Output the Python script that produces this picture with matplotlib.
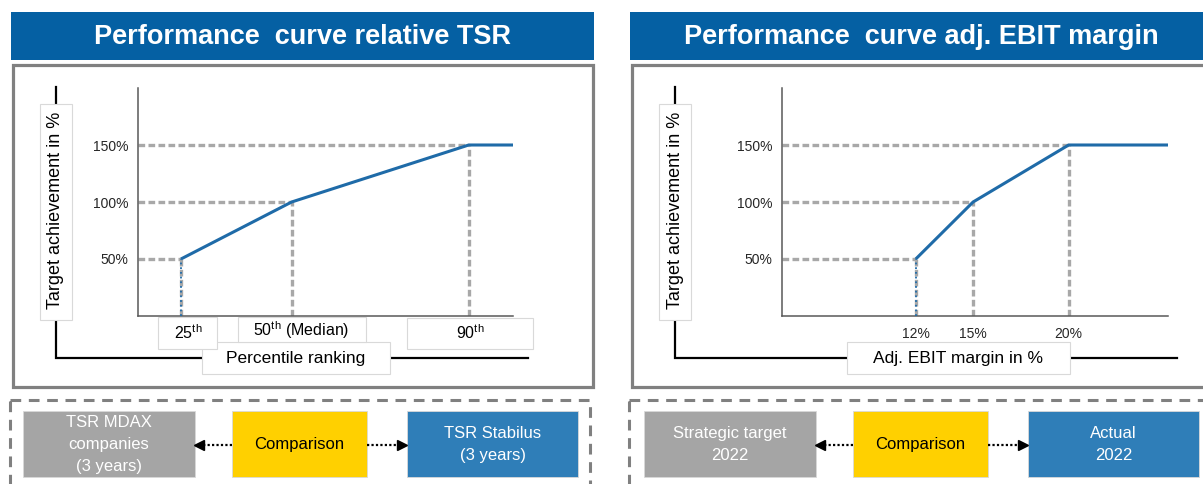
import matplotlib
matplotlib.use('Agg')
import matplotlib.pyplot as plt
from matplotlib.patches import Rectangle

plt.rcParams['font.family'] = ['Liberation Sans', 'DejaVu Sans']
plt.rcParams['mathtext.fontset'] = 'custom'
plt.rcParams['mathtext.rm'] = 'Liberation Sans'
plt.rcParams['mathtext.it'] = 'Liberation Sans:italic'

# ---- data ----
tsr_pct = [25, 50, 90, 100]
tsr_ach = [50, 100, 150, 150]
tsr_labels = ['25$^{\\mathrm{th}}$', '50$^{\\mathrm{th}}$ (Median)', '90$^{\\mathrm{th}}$']

ebit_margin = [12, 15, 20, 25.2]
ebit_ach = [50, 100, 150, 150]
ebit_labels = ['12%', '15%', '20%']

y_ticks = [50, 100, 150]
y_tick_labels = ['50%', '100%', '150%']

titles = ['Performance  curve relative TSR', 'Performance  curve adj. EBIT margin']
x_titles = ['Percentile ranking', 'Adj. EBIT margin in %']
y_title = 'Target achievement in %'
box_texts = [['TSR MDAX\ncompanies\n(3 years)', 'Comparison', 'TSR Stabilus\n(3 years)'],
             ['Strategic target\n2022', 'Comparison', 'Actual\n2022']]

# ---- colours ----
BANNER = '#0560A3'
LINE = '#1F6BA8'
GUIDE = '#A8A8A8'
FRAME = '#808080'
BOX_GRAY = '#A5A5A5'
BOX_YELLOW = '#FFD000'
BOX_BLUE = '#2F7EB8'
LIGHT_EDGE = '#D9D9D9'

W, H = 1203, 484
fig = plt.figure(figsize=(W / 100, H / 100), dpi=100)
bg = fig.add_axes([0, 0, 1, 1])
bg.set_xlim(0, W)
bg.set_ylim(H, 0)
bg.axis('off')


def rect(x0, y0, x1, y1, fc='white', ec='none', lw=1.0, ls='-', z=1):
    bg.add_patch(Rectangle((x0, y0), x1 - x0, y1 - y0, facecolor=fc, edgecolor=ec,
                           lw=lw, ls=ls, zorder=z))


def chart(px0, px1, xs, ys, xmin):
    ax = fig.add_axes([px0 / W, (H - 316) / H, (px1 - px0) / W, 228 / H])
    ax.patch.set_alpha(0)
    ax.set_xlim(xmin, xs[-1])
    ax.set_ylim(0, 200)
    for s in ['top', 'right']:
        ax.spines[s].set_visible(False)
    for s in ['left', 'bottom']:
        ax.spines[s].set_color('#595959')
        ax.spines[s].set_linewidth(1.1)
    # guide lines
    for x, y in zip(xs[:3], ys[:3]):
        ax.plot([xmin, x], [y, y], color=GUIDE, lw=2.4, ls=(0, (2, 1)), zorder=2)
        ax.plot([x, x], [0, y], color=GUIDE, lw=2.4, ls=(0, (2, 1)), zorder=2)
    ax.plot([xs[0], xs[0]], [0, ys[0]], color=LINE, lw=1.3, ls=(0, (1, 1.6)), zorder=3)
    ax.plot(xs, ys, color=LINE, lw=2.2, zorder=4, solid_capstyle='butt')
    ax.set_yticks(y_ticks, y_tick_labels, fontsize=10, color='#262626')
    ax.tick_params(axis='y', length=0, pad=7)
    return ax


for i, off in enumerate([0, 619]):
    # banner + frame
    rect(11 + off, 12, 594 + off, 60, fc=BANNER, z=1)
    bg.text((11 + 594) / 2 + off, 36.5, titles[i], color='white', fontsize=19.5,
            fontweight='bold', ha='center', va='center', zorder=2)
    rect(12.5 + off, 64.5, 592.5 + off, 386.5, fc='white', ec=FRAME, lw=2.3, z=1)

    # outer L axis
    x_end = 1177 if i else 528
    bg.plot([56 + off, 56 + off, x_end], [87, 358, 358],
            color='black', lw=1.6, zorder=2, solid_joinstyle='miter')
    # y label box
    rect(40 + off, 104, 72 + off, 320, fc='white', ec=LIGHT_EDGE, lw=0.8, z=3)
    bg.text(56 + off, 210, y_title, rotation=90, fontsize=13, ha='center',
            va='center', zorder=4)

    # bottom dashed region
    rect(10 + off, 400, 590 + off + (40 if i else 0), 520, fc='none', ec=FRAME,
         lw=2.2, ls=(0, (3.5, 2.5)), z=1)
    b = [(23, 195, BOX_GRAY, 'white'), (232, 367, BOX_YELLOW, 'black'),
         (407, 578, BOX_BLUE, 'white')]
    boff = off + 2 * i
    for (x0, x1, fc, tc), txt in zip(b, box_texts[i]):
        rect(x0 + boff, 411, x1 + boff, 477, fc=fc, ec=LIGHT_EDGE, lw=0.6, z=2)
        bg.text((x0 + x1) / 2 + boff, 444.5, txt, color=tc, fontsize=12, ha='center',
                va='center', linespacing=1.6, zorder=3)
    # dotted arrows
    bg.plot([232 + boff, 201 + boff], [445, 445], color='black', lw=1.6,
            ls=(0, (1, 1)), zorder=3)
    bg.plot([199 + boff], [445], marker='<', color='black', ms=7, zorder=3)
    bg.plot([367 + boff, 399 + boff], [445, 445], color='black', lw=1.6,
            ls=(0, (1, 1)), zorder=3)
    bg.plot([402 + boff], [445], marker='>', color='black', ms=7, zorder=3)

# ---- left chart ----
ax1 = chart(138, 513, tsr_pct, tsr_ach, 15.3)
ax1.set_xticks([])
# x label boxes
rect(202, 342, 390, 374, fc='white', ec=LIGHT_EDGE, lw=0.8, z=3)
bg.text(296, 358, x_titles[0], fontsize=12.5, ha='center', va='center', zorder=6)
rect(158, 317, 217, 349, fc='white', ec=LIGHT_EDGE, lw=0.8, z=4)
rect(238, 317, 366, 342, fc='white', ec=LIGHT_EDGE, lw=0.8, z=4)
rect(407, 318, 533, 349, fc='white', ec=LIGHT_EDGE, lw=0.8, z=4)
for xc, yc, lab in zip([188, 301, 470], [333, 330, 333], tsr_labels):
    bg.text(xc, yc, lab, fontsize=11.5, ha='center', va='center', zorder=6)

# ---- right chart ----
ax2 = chart(782, 1168, ebit_margin, ebit_ach, 5.0)
ax2.set_xticks(ebit_margin[:3], ebit_labels, fontsize=10, color='#262626')
ax2.tick_params(axis='x', length=0, pad=8)
rect(847, 342, 1070, 374, fc='white', ec=LIGHT_EDGE, lw=0.8, z=3)
bg.text(958, 358, x_titles[1], fontsize=12.5, ha='center', va='center', zorder=6)

fig.savefig('out.png', dpi=100)
